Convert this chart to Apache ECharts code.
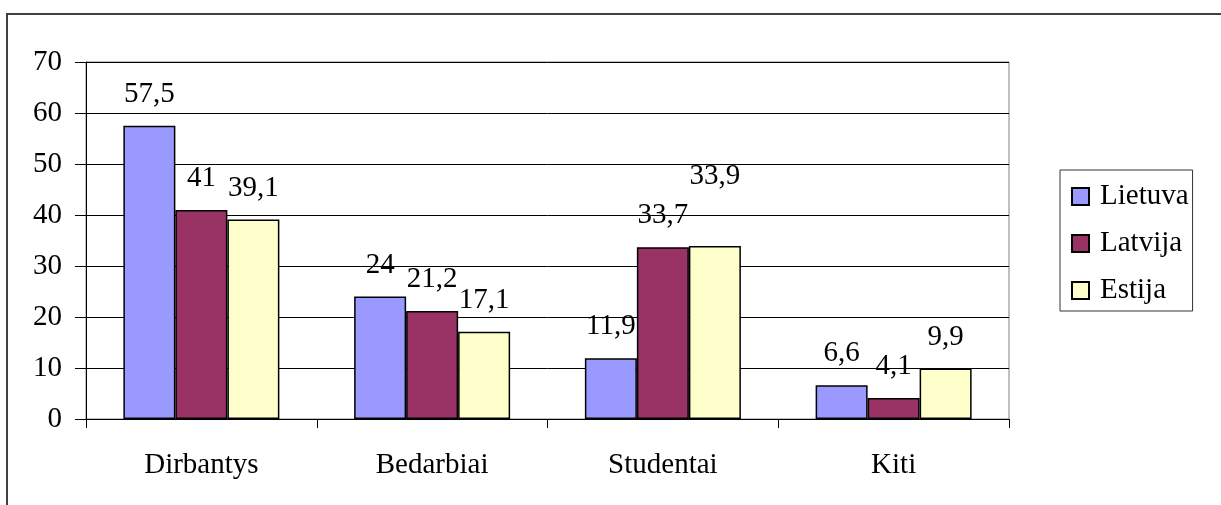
<!DOCTYPE html>
<html>
<head>
<meta charset="utf-8">
<script src="https://cdn.jsdelivr.net/npm/echarts@6/dist/echarts.min.js"></script>
<style>
  html, body { margin: 0; padding: 0; background: #fff; }
  #chart { width: 1221px; height: 505px; }
</style>
</head>
<body>
<div id="chart"></div>
<script>
// Gyventojų grupės ir šalys
const categories = ['Dirbantys', 'Bedarbiai', 'Studentai', 'Kiti'];
const seriesNames = ['Lietuva', 'Latvija', 'Estija'];
const lietuva = [57.5, 24, 11.9, 6.6];
const latvija = [41, 21.2, 33.7, 4.1];
const estija = [39.1, 17.1, 33.9, 9.9];
const yTicks = [0, 10, 20, 30, 40, 50, 60, 70];

const colors = ['#9999FF', '#993366', '#FFFFCC'];
const FONT = '"Liberation Serif", "Times New Roman", serif';

// decimal comma, as in the Lithuanian labels
const fmt = v => String(v).replace('.', ',');

function makeSeries(name, values, color, idx) {
  return {
    name: name,
    type: 'bar',
    barWidth: 52,
    barGap: '0%',
    itemStyle: { color: color, borderColor: '#000', borderWidth: 1.5 },
    label: {
      show: true,
      position: 'top',
      distance: 17,
      fontFamily: FONT,
      fontSize: 29,
      color: '#000',
      formatter: p => fmt(p.value)
    },
    data: values.map((v, i) => {
      // the Estonian student label sits higher than the rest
      if (idx === 2 && i === 2) {
        return { value: v, label: { offset: [0, -38] } };
      }
      return v;
    })
  };
}

const chart = echarts.init(document.getElementById('chart'), null, { renderer: 'canvas' });
chart.setOption({
  backgroundColor: '#fff',
  animation: false,
  textStyle: { fontFamily: FONT },
  grid: {
    left: 86, right: 212, top: 62, bottom: 86,
    show: true, borderColor: '#808080', borderWidth: 1, backgroundColor: 'transparent'
  },
  legend: {
    orient: 'vertical',
    left: 1060, top: 170,
    padding: [12, 4, 6, 11],
    itemGap: 18,
    itemWidth: 17, itemHeight: 17,
    icon: 'rect',
    borderColor: '#333', borderWidth: 1,
    backgroundColor: '#fff',
    textStyle: { fontFamily: FONT, fontSize: 29, color: '#000', padding: [0, 0, 0, 6] },
    data: seriesNames
  },
  xAxis: {
    type: 'category',
    data: categories,
    axisLine: { lineStyle: { color: '#000', width: 1 } },
    axisTick: { show: true, length: 9, alignWithLabel: false, lineStyle: { color: '#000' } },
    axisLabel: { margin: 32, fontFamily: FONT, fontSize: 29, color: '#000' }
  },
  yAxis: {
    type: 'value',
    min: yTicks[0], max: yTicks[yTicks.length - 1], interval: 10,
    axisLine: { show: true, lineStyle: { color: '#000', width: 1 } },
    axisTick: { show: true, length: 11, lineStyle: { color: '#000' } },
    splitLine: { show: true, lineStyle: { color: '#000', width: 1 } },
    axisLabel: { margin: 24, fontFamily: FONT, fontSize: 29, color: '#000' }
  },
  graphic: [{
    type: 'rect',
    silent: true,
    shape: { x: 7, y: 14, width: 1400, height: 700 },
    style: { fill: 'none', stroke: '#404040', lineWidth: 2 },
    z: 100
  }],
  series: [
    makeSeries(seriesNames[0], lietuva, colors[0], 0),
    makeSeries(seriesNames[1], latvija, colors[1], 1),
    makeSeries(seriesNames[2], estija, colors[2], 2)
  ]
});
</script>
</body>
</html>
